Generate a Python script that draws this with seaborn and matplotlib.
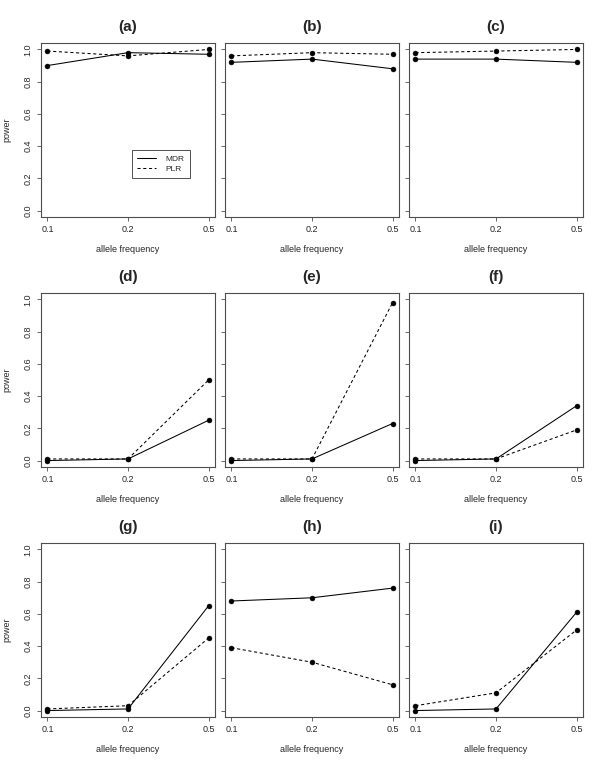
import matplotlib
matplotlib.use("Agg")
import matplotlib.pyplot as plt
from matplotlib.lines import Line2D
import seaborn as sns
import pandas as pd

# allele frequencies (categorical x axis)
freq_labels = ["0.1", "0.2", "0.5"]
panel_titles = ["(a)", "(b)", "(c)", "(d)", "(e)", "(f)", "(g)", "(h)", "(i)"]

# power per panel
mdr_power = [
    [0.90, 0.98, 0.97],
    [0.92, 0.94, 0.88],
    [0.94, 0.94, 0.92],
    [0.00, 0.01, 0.25],
    [0.00, 0.01, 0.23],
    [0.00, 0.01, 0.34],
    [0.00, 0.01, 0.65],
    [0.68, 0.70, 0.76],
    [0.00, 0.01, 0.61],
]
plr_power = [
    [0.99, 0.96, 1.00],
    [0.96, 0.98, 0.97],
    [0.98, 0.99, 1.00],
    [0.01, 0.01, 0.50],
    [0.01, 0.01, 0.98],
    [0.01, 0.01, 0.19],
    [0.01, 0.03, 0.45],
    [0.39, 0.30, 0.16],
    [0.03, 0.11, 0.50],
]

sns.set_style("white")
plt.rcParams["font.family"] = ["Liberation Sans", "DejaVu Sans"]

W, H = 600, 764
fig = plt.figure(figsize=(6, 7.64), dpi=100)

col_left = [41, 225, 409]
row_top = [43, 293, 543]
box = 174
frame_col = "#4d4d4d"

for i in range(9):
    r, c = divmod(i, 3)
    ax = fig.add_axes([col_left[c] / W, (H - row_top[r] - box) / H, box / W, box / H])
    df = pd.DataFrame({
        "pos": [1, 2, 3] * 2,
        "power": mdr_power[i] + plr_power[i],
        "method": ["MDR"] * 3 + ["PLR"] * 3,
    })
    sns.lineplot(data=df, x="pos", y="power", style="method",
                 dashes={"MDR": "", "PLR": (3, 2.5)},
                 markers={"MDR": "o", "PLR": "o"},
                 color="black", linewidth=0.75, markersize=3.5,
                 markeredgecolor="black", markeredgewidth=0.4,
                 legend=False, ax=ax)
    ax.set_xlim(0.92, 3.08)
    ax.set_ylim(-0.04, 1.04)
    ax.set_xticks([1, 2, 3])
    ax.set_xticklabels(freq_labels)
    ax.set_yticks([0, 0.2, 0.4, 0.6, 0.8, 1.0])
    ax.tick_params(axis="both", direction="out", length=3, width=0.6,
                   color=frame_col, labelsize=6.5, pad=3, bottom=True, left=True)
    if c == 0:
        ax.set_yticklabels(["0.0", "0.2", "0.4", "0.6", "0.8", "1.0"],
                           rotation=90, va="center")
        ax.set_ylabel("power", fontsize=6.5, labelpad=9)
    else:
        ax.set_yticklabels([])
        ax.set_ylabel("")
    ax.set_xlabel("allele frequency", fontsize=6.5, labelpad=8)
    for sp in ax.spines.values():
        sp.set_color(frame_col)
        sp.set_linewidth(0.8)
    ax.text(0.5, 1.092, panel_titles[i], transform=ax.transAxes,
            ha="center", va="center", fontsize=11, fontweight="bold")

    if i == 0:
        handles = [Line2D([], [], color="black", lw=0.75, ls="-"),
                   Line2D([], [], color="black", lw=0.75, ls=(0, (3, 2.5)))]
        leg = ax.legend(handles, ["MDR", "PLR"], loc="upper left",
                        bbox_to_anchor=(0.5, 0.408), fontsize=6,
                        frameon=True, fancybox=False, handlelength=2.2,
                        borderpad=0.6, labelspacing=0.3, handletextpad=1.2)
        leg.get_frame().set_edgecolor("black")
        leg.get_frame().set_linewidth(0.6)

fig.savefig("out.png", dpi=100)
